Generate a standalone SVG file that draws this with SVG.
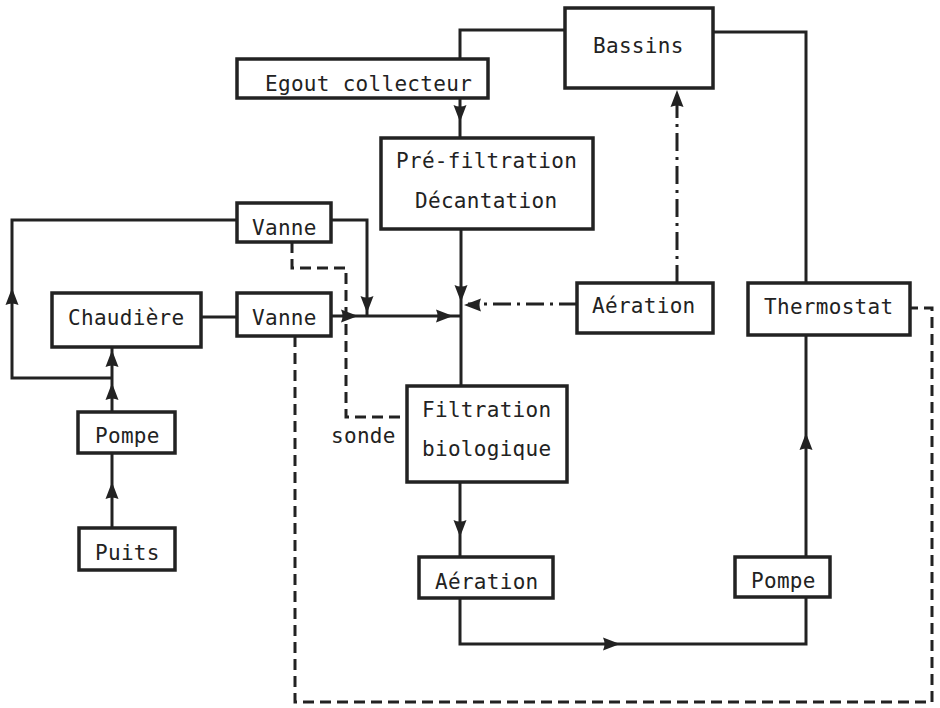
<svg xmlns="http://www.w3.org/2000/svg" width="940" height="708" viewBox="0 0 940 708">
<style>
.box{fill:#fff;stroke:#222;stroke-width:3.5}
.ln{fill:none;stroke:#222;stroke-width:3;stroke-linejoin:miter}
.da{fill:none;stroke:#222;stroke-width:3;stroke-dasharray:11 6}
.dd{fill:none;stroke:#222;stroke-width:3;stroke-dasharray:18 6 3 6}
text{font-family:"DejaVu Sans Mono","Liberation Mono",monospace;font-size:21px;fill:#222;letter-spacing:0.3px}
.ah{fill:#222}
</style>
<defs>
<path id="ah" class="ah" d="M0,0 L-17,-6.5 Q-14,0 -17,6.5 Z"/>
</defs>
<rect width="940" height="708" fill="#fff"/>
<g id="connectors">
<polyline class="ln" points="460,58 460,30 565,30"/>
<polyline class="ln" points="713,32 806,32 806,283"/>
<line class="ln" x1="460" y1="98" x2="460" y2="138"/>
<line class="ln" x1="461" y1="229" x2="461" y2="386"/>
<line class="ln" x1="331" y1="316" x2="461" y2="316"/>
<line class="ln" x1="201" y1="317" x2="237" y2="317"/>
<polyline class="ln" points="331,220 367,220 367,316"/>
<polyline class="ln" points="237,220 12,220 12,378 112,378"/>
<line class="ln" x1="112" y1="347" x2="112" y2="412"/>
<line class="ln" x1="112" y1="453" x2="112" y2="528"/>
<line class="ln" x1="460" y1="482" x2="460" y2="557"/>
<polyline class="ln" points="460,598 460,644 806,644 806,597"/>
<line class="ln" x1="806" y1="557" x2="806" y2="335"/>
<polyline class="da" points="292,242 292,268 346,268 346,417 407,417"/>
<polyline class="da" points="295,336 295,702 932,702 932,308 910,308"/>
<line class="dd" x1="577" y1="304" x2="468" y2="304"/>
<line class="dd" x1="677" y1="283" x2="677" y2="100"/>
<use href="#ah" transform="translate(460,122) rotate(90)"/>
<use href="#ah" transform="translate(461,302) rotate(90)"/>
<use href="#ah" transform="translate(464,305) rotate(180)"/>
<use href="#ah" transform="translate(358,316)"/>
<use href="#ah" transform="translate(367,313) rotate(90)"/>
<use href="#ah" transform="translate(453,316)"/>
<use href="#ah" transform="translate(677,90) rotate(-90)"/>
<use href="#ah" transform="translate(12,288) rotate(-90)"/>
<use href="#ah" transform="translate(112,350) rotate(-90)"/>
<use href="#ah" transform="translate(112,383) rotate(-90)"/>
<use href="#ah" transform="translate(112,482) rotate(-90)"/>
<use href="#ah" transform="translate(460,537) rotate(90)"/>
<use href="#ah" transform="translate(620,644)"/>
<use href="#ah" transform="translate(806,433) rotate(-90)"/>
</g>
<g id="bassins"><rect class="box" x="565" y="8" width="148" height="80"/><text x="593" y="53">Bassins</text></g>
<g id="egout"><rect class="box" x="237" y="59" width="251" height="39"/><text x="265" y="91">Egout collecteur</text></g>
<g id="prefiltration"><rect class="box" x="381" y="138" width="212" height="91"/><text x="396" y="168">Pré-filtration</text><text x="415" y="208">Décantation</text></g>
<g id="vanne1"><rect class="box" x="237" y="203" width="94" height="39"/><text x="252" y="235">Vanne</text></g>
<g id="chaudiere"><rect class="box" x="52" y="293" width="149" height="54"/><text x="68" y="325">Chaudière</text></g>
<g id="vanne2"><rect class="box" x="237" y="293" width="94" height="43"/><text x="252" y="325">Vanne</text></g>
<g id="aeration1"><rect class="box" x="577" y="283" width="136" height="50"/><text x="592" y="313">Aération</text></g>
<g id="thermostat"><rect class="box" x="748" y="283" width="162" height="52"/><text x="764" y="314">Thermostat</text></g>
<g id="filtration"><rect class="box" x="407" y="386" width="160" height="96"/><text x="422" y="417">Filtration</text><text x="422" y="456">biologique</text></g>
<g id="sonde"><text x="331" y="443">sonde</text></g>
<g id="pompe1"><rect class="box" x="78" y="412" width="97" height="41"/><text x="95" y="443">Pompe</text></g>
<g id="puits"><rect class="box" x="79" y="528" width="96" height="42"/><text x="95" y="560">Puits</text></g>
<g id="aeration2"><rect class="box" x="419" y="557" width="134" height="41"/><text x="435" y="589">Aération</text></g>
<g id="pompe2"><rect class="box" x="735" y="557" width="95" height="40"/><text x="751" y="588">Pompe</text></g>
</svg>
